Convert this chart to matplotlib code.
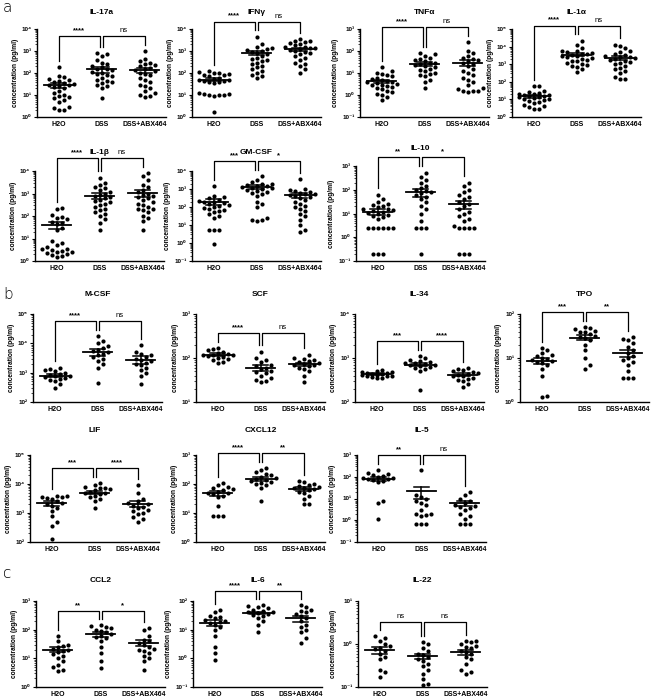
import numpy as np
import matplotlib
matplotlib.use('Agg')
from matplotlib import pyplot as plt
from matplotlib.ticker import FixedLocator, FuncFormatter, NullFormatter

plt.rcParams['font.family'] = ['Liberation Sans', 'DejaVu Sans']
plt.rcParams['font.weight'] = 'bold'

W, H = 654, 699
GROUPS = ['H2O', 'DSS', 'DSS+ABX464']

# ---- values (pg/ml): [H2O, DSS, DSS+ABX464] ----
il17a = [[190, 75, 65, 55, 50, 45, 40, 35, 32, 30, 28, 25, 22, 20, 15, 12, 10, 9, 8, 7, 6, 5, 3, 2.5, 2, 2],
         [800, 700, 600, 400, 300, 250, 200, 180, 160, 150, 130, 110, 100, 90, 80, 70, 60, 50, 45, 40, 35, 30, 25, 20, 7],
         [1000, 450, 350, 300, 250, 220, 200, 170, 150, 130, 120, 100, 90, 80, 60, 50, 40, 30, 25, 20, 15, 12, 10, 9, 8]]
ifng = [[120, 110, 100, 95, 90, 85, 80, 70, 60, 55, 50, 48, 45, 42, 40, 38, 35, 12, 11, 11, 10, 10, 10, 9, 1.7],
        [4500, 2000, 1500, 1300, 1200, 1100, 1000, 900, 850, 700, 600, 500, 450, 400, 350, 300, 250, 200, 180, 150, 120, 100, 80, 70, 60],
        [3500, 3000, 2800, 2500, 2200, 2000, 1800, 1600, 1500, 1400, 1300, 1200, 1100, 1000, 900, 800, 700, 600, 500, 400, 300, 250, 200, 150, 100]]
tnfa = [[18, 12, 10, 9, 8, 7, 6, 5.5, 5, 4.5, 4, 3.8, 3.5, 3.2, 3, 2.8, 2.5, 2.2, 2, 1.8, 1.5, 1.3, 1.1, 1, 0.8, 0.6],
        [80, 70, 60, 50, 45, 40, 35, 30, 28, 25, 22, 20, 18, 16, 14, 12, 10, 9, 8, 7, 5, 4, 2],
        [250, 100, 80, 60, 50, 45, 40, 35, 30, 25, 20, 15, 12, 10, 8, 6, 5, 4, 3, 2, 1.8, 1.6, 1.5, 1.5, 1.4]]
il1a = [[60, 55, 30, 25, 22, 20, 20, 18, 17, 16, 15, 14, 13, 12, 11, 10, 9, 8, 7, 6, 5, 4, 3.5, 3, 3],
        [22000, 12000, 8000, 6000, 5500, 5000, 4500, 4000, 3800, 3500, 3000, 2800, 2500, 2200, 2000, 1800, 1600, 1500, 1200, 1000, 900, 800, 700, 500, 350],
        [13000, 11000, 8000, 6000, 5000, 4000, 3500, 3000, 2700, 2500, 2200, 2000, 1800, 1600, 1400, 1200, 1000, 800, 600, 500, 400, 300, 200, 150, 150]]
il1b = [[230, 200, 110, 90, 80, 70, 55, 50, 45, 30, 25, 8, 6, 5, 4, 3.5, 3.3, 3, 2.8, 2.6, 2.4, 2.2, 2, 1.8, 1.6, 1.5],
        [5000, 3000, 2500, 2000, 1800, 1500, 1200, 1000, 900, 800, 700, 600, 500, 450, 400, 350, 300, 250, 200, 180, 150, 120, 100, 70, 50, 25],
        [8000, 6000, 4000, 2500, 2000, 1500, 1200, 1000, 900, 800, 700, 600, 500, 400, 350, 300, 250, 200, 200, 180, 150, 100, 80, 60, 25]]
gmcsf = [[1400, 400, 350, 300, 250, 220, 200, 180, 160, 150, 130, 120, 100, 90, 80, 70, 60, 50, 40, 30, 25, 5.5, 5, 5, 0.9],
         [5000, 3000, 2500, 2000, 1800, 1600, 1500, 1400, 1300, 1200, 1100, 1000, 900, 800, 700, 600, 500, 400, 200, 150, 100, 25, 20, 18, 17],
         [3500, 1000, 900, 800, 700, 600, 550, 500, 450, 400, 350, 300, 250, 200, 150, 120, 100, 80, 60, 40, 30, 20, 10, 5, 4]]
il10 = [[60, 40, 30, 25, 22, 20, 18, 16, 15, 14, 13, 12, 11, 10, 9, 8, 7, 6, 2.5, 2.5, 2.5, 2.5, 2.5, 2.5, 0.2, 0.2, 0.2],
        [500, 350, 250, 200, 150, 120, 100, 90, 80, 70, 60, 50, 40, 30, 20, 15, 10, 5, 2.5, 2.5, 2.5, 0.2],
        [200, 150, 100, 80, 60, 50, 40, 30, 25, 20, 15, 12, 10, 8, 6, 5, 3, 2.5, 2.5, 2.5, 2.5, 0.2, 0.2, 0.2]]
mcsf = [[1500, 1300, 1200, 1100, 1000, 900, 850, 800, 750, 700, 650, 600, 550, 500, 400, 300],
        [18000, 12000, 10000, 8000, 7000, 6000, 5500, 5000, 4500, 4000, 3500, 3000, 2500, 2000, 1500, 450],
        [9000, 5000, 4500, 4000, 3500, 3000, 2800, 2500, 2200, 2000, 1800, 1500, 1200, 1000, 800, 400]]
scf = [[170, 160, 150, 140, 130, 125, 120, 118, 115, 110, 105, 100, 95, 90, 80, 75],
       [140, 100, 90, 80, 70, 65, 60, 55, 50, 48, 45, 40, 35, 32, 30, 28],
       [120, 100, 95, 90, 85, 80, 75, 72, 70, 68, 65, 60, 55, 50, 40, 28]]
il34 = [[520, 500, 480, 470, 460, 450, 440, 430, 420, 410, 400, 390, 380, 370, 360, 350],
        [1100, 1000, 900, 850, 800, 780, 750, 720, 700, 680, 650, 620, 600, 550, 500, 190],
        [600, 550, 520, 500, 480, 460, 440, 420, 400, 380, 360, 340, 320, 300, 260, 220]]
tpo = [[17, 15, 13, 12, 11, 10, 9.5, 9, 8.5, 8, 7.5, 7, 5.5, 4, 1.4, 1.3],
       [50, 48, 45, 42, 40, 38, 35, 32, 30, 28, 25, 20, 15, 10, 7, 5.5],
       [30, 27, 25, 22, 18, 15, 13, 11, 10, 9, 8, 7, 5, 3.5, 3.5, 3.5]]
lif = [[4000, 3800, 3600, 3500, 3200, 3000, 2500, 2200, 2000, 1800, 1500, 1200, 800, 500, 350, 130],
       [11000, 9000, 8000, 7500, 7000, 6500, 6000, 5500, 5000, 4800, 4500, 4000, 3500, 3000, 2500, 1500],
       [9000, 5000, 3000, 2500, 2200, 2000, 1800, 1600, 1500, 1300, 1200, 1000, 900, 700, 600, 500]]
cxcl12 = [[110, 90, 80, 70, 65, 60, 55, 50, 48, 45, 40, 35, 18, 8, 8, 8],
          [350, 300, 250, 220, 200, 180, 160, 150, 140, 130, 120, 110, 100, 90, 70, 25],
          [130, 120, 100, 90, 85, 80, 75, 70, 65, 60, 55, 50, 40, 30, 20, 20]]
il5 = [[200, 150, 130, 120, 110, 100, 90, 85, 80, 75, 70, 65, 60, 8, 6, 1.2],
       [200, 15, 12, 10, 8, 6, 5, 3, 2, 2, 1.8, 1.5, 0.7, 0.7, 0.7],
       [20, 15, 10, 8, 6, 5, 4.5, 4, 3.5, 3, 2, 1.5, 1.2, 0.7, 0.7, 0.7]]
ccl2 = [[60, 40, 30, 28, 25, 22, 20, 18, 16, 14, 12, 10, 8, 6, 5, 4, 3.5],
        [140, 130, 120, 110, 100, 90, 80, 70, 60, 55, 50, 40, 25, 15, 8, 4.5],
        [110, 100, 60, 45, 40, 35, 30, 25, 22, 20, 18, 15, 12, 10, 8, 4]]
il6 = [[50, 40, 30, 28, 25, 22, 20, 18, 17, 15, 12, 10, 6, 2.5, 1.5, 0.9],
       [70, 65, 60, 55, 50, 45, 42, 40, 38, 35, 32, 30, 25, 20, 15, 8],
       [70, 60, 50, 45, 40, 35, 30, 25, 20, 15, 12, 10, 8, 5, 3.5]]
il22 = [[1.5, 1.4, 1.2, 1.0, 0.9, 0.8, 0.75, 0.7, 0.6, 0.5, 0.45, 0.25, 0.22, 0.17],
        [1.1, 1.0, 0.8, 0.7, 0.6, 0.55, 0.5, 0.45, 0.4, 0.35, 0.3, 0.25, 0.2, 0.15, 0.12, 0.11],
        [1.2, 1.2, 1.1, 1.0, 0.9, 0.85, 0.8, 0.7, 0.65, 0.6, 0.5, 0.45, 0.35, 0.25, 0.22, 0.2]]

# mean and SEM per group
means = {'IL-17a': [28, 150, 130], 'IFNγ': [50, 800, 1200], 'TNFα': [4.2, 26, 30],
         'IL-1α': [15, 3500, 2300], 'IL-1β': [40, 800, 1100], 'GM-CSF': [200, 1300, 450],
         'IL-10': [12, 80, 25], 'M-CSF': [800, 5000, 2800], 'SCF': [120, 60, 72],
         'IL-34': [430, 700, 420], 'TPO': [8.5, 29, 13], 'LIF': [2200, 5000, 2100],
         'CXCL12': [48, 150, 68], 'IL-5': [80, 22, 6], 'CCL2': [20, 70, 35],
         'IL-6': [17, 38, 25], 'IL-22': [0.72, 0.52, 0.65]}
sems = {'IL-17a': [7, 45, 35], 'IFNγ': [8, 150, 200], 'TNFα': [0.7, 6, 10],
        'IL-1α': [3, 700, 600], 'IL-1β': [13, 250, 400], 'GM-CSF': [70, 350, 150],
        'IL-10': [3, 30, 10], 'M-CSF': [100, 1200, 800], 'SCF': [8, 10, 7],
        'IL-34': [15, 50, 30], 'TPO': [1.3, 4, 2.5], 'LIF': [400, 600, 500],
        'CXCL12': [9, 22, 9], 'IL-5': [15, 13, 1.5], 'CCL2': [4, 14, 9],
        'IL-6': [4, 4, 6], 'IL-22': [0.12, 0.08, 0.09]}
signif = {'IL-17a': ['****', 'ns'], 'IFNγ': ['****', 'ns'], 'TNFα': ['****', 'ns'],
          'IL-1α': ['****', 'ns'], 'IL-1β': ['****', 'ns'], 'GM-CSF': ['***', '*'],
          'IL-10': ['**', '*'], 'M-CSF': ['****', 'ns'], 'SCF': ['****', 'ns'],
          'IL-34': ['***', '****'], 'TPO': ['***', '**'], 'LIF': ['***', '****'],
          'CXCL12': ['****', '**'], 'IL-5': ['**', 'ns'], 'CCL2': ['**', '*'],
          'IL-6': ['****', '**'], 'IL-22': ['ns', 'ns']}
decades = {'IL-17a': (0, 4), 'IFNγ': (0, 4), 'TNFα': (-1, 3), 'IL-1α': (0, 5),
           'IL-1β': (0, 4), 'GM-CSF': (-1, 4), 'IL-10': (-1, 3), 'M-CSF': (2, 5),
           'SCF': (1, 3), 'IL-34': (2, 4), 'TPO': (0, 2), 'LIF': (2, 5),
           'CXCL12': (0, 3), 'IL-5': (-1, 3), 'CCL2': (0, 3), 'IL-6': (-1, 2),
           'IL-22': (-1, 1)}
panel_data = {'IL-17a': il17a, 'IFNγ': ifng, 'TNFα': tnfa, 'IL-1α': il1a,
              'IL-1β': il1b, 'GM-CSF': gmcsf, 'IL-10': il10, 'M-CSF': mcsf,
              'SCF': scf, 'IL-34': il34, 'TPO': tpo, 'LIF': lif, 'CXCL12': cxcl12,
              'IL-5': il5, 'CCL2': ccl2, 'IL-6': il6, 'IL-22': il22}

# layout in pixels: left, top, height, title y
layout = {'IL-17a': (37, 29, 88, 12), 'IFNγ': (192, 29, 88, 12),
          'TNFα': (360, 29, 88, 12), 'IL-1α': (512, 29, 88, 12),
          'IL-1β': (35, 171, 90, 153), 'GM-CSF': (192, 171, 90, 153),
          'IL-10': (356, 166, 95, 148),
          'M-CSF': (33, 314, 88, 294), 'SCF': (196, 314, 88, 294),
          'IL-34': (355, 314, 88, 294), 'TPO': (520, 314, 88, 294),
          'LIF': (30, 455, 87, 431), 'CXCL12': (196, 455, 87, 431),
          'IL-5': (357, 455, 87, 431),
          'CCL2': (36, 601, 86, 580), 'IL-6': (193, 601, 86, 580),
          'IL-22': (358, 601, 86, 580)}
AX_W = 129
CAT_PX = AX_W / 3.0

SUP = str.maketrans('-0123456789', '⁻⁰¹²³⁴⁵⁶⁷⁸⁹')


def sup_fmt(v, pos):
    e = int(round(np.log10(v)))
    return '10' + str(e).translate(SUP)


def swarm(logv, px_per_dec, d=5.0, max_off=18.0):
    # simple beeswarm offsets (in category units), capped in width
    order = np.argsort(logv)
    placed = []
    xs = np.zeros(len(logv))
    cands = [0.0]
    k = 1
    while k * d <= max_off:
        cands += [k * d, -k * d]
        k += 1
    for i in order:
        y = logv[i] * px_per_dec
        best, best_gap = 0.0, -1
        for c in cands:
            gap = min([(c - px) ** 2 + (y - py) ** 2 for px, py in placed] or [1e9])
            if gap >= d * d * 0.95:
                best = c
                break
            if gap > best_gap:
                best, best_gap = c, gap
        placed.append((best, y))
        xs[i] = best / CAT_PX
    return xs


fig = plt.figure(figsize=(W / 100, H / 100), dpi=100)

for name, groups in panel_data.items():
    left, top, h, ty = layout[name]
    lo, hi = decades[name]
    ax = fig.add_axes([left / W, 1 - (top + h) / H, AX_W / W, h / H])
    ax.set_yscale('log')
    ax.set_ylim(10.0 ** lo, 10.0 ** hi)
    ax.set_xlim(-0.5, 2.5)
    px_per_dec = h / (hi - lo)

    tops = []
    for i, vals in enumerate(groups):
        lv = np.log10(np.array(vals, dtype=float))
        xo = swarm(lv, px_per_dec)
        ax.scatter(i + xo, vals, s=9, color='black', linewidths=0, zorder=3, clip_on=False)
        m, se = means[name][i], sems[name][i]
        ax.plot([i - 0.34, i + 0.34], [m, m], color='black', lw=1.3, zorder=4)
        ax.plot([i, i], [m - se, m + se], color='black', lw=1.1, zorder=4)
        ax.plot([i - 0.17, i + 0.17], [m + se, m + se], color='black', lw=1.1, zorder=4)
        ax.plot([i - 0.17, i + 0.17], [m - se, m - se], color='black', lw=1.1, zorder=4)
        tops.append(lv.max())

    rng = hi - lo
    legs = [t + 0.07 * rng for t in tops]
    level = max(legs) + 0.1 * rng
    lab_l, lab_r = signif[name]
    ax.plot([0, 0, 0.96, 0.96], 10 ** np.array([legs[0], level, level, legs[1]]),
            color='black', lw=0.9, clip_on=False)
    ax.plot([1.04, 1.04, 2, 2], 10 ** np.array([legs[1], level, level, legs[2]]),
            color='black', lw=0.9, clip_on=False)
    for xc, lab in [(0.48, lab_l), (1.52, lab_r)]:
        ax.annotate(lab, (xc, 10 ** level), xytext=(0, 1.5), textcoords='offset points',
                    ha='center', va='bottom', fontsize=5.5,
                    fontweight='normal' if lab == 'ns' else 'bold', annotation_clip=False)

    ax.yaxis.set_major_locator(FixedLocator([10.0 ** e for e in range(lo, hi + 1)]))
    ax.yaxis.set_major_formatter(FuncFormatter(sup_fmt))
    minors = [k * 10.0 ** e for e in range(lo, hi) for k in range(2, 10)]
    ax.yaxis.set_minor_locator(FixedLocator(minors))
    ax.yaxis.set_minor_formatter(NullFormatter())
    ax.tick_params(axis='y', which='major', length=2.5, width=0.8, labelsize=4.5, pad=1.5)
    ax.tick_params(axis='y', which='minor', length=1.3, width=0.5)
    ax.set_xticks([0, 1, 2])
    ax.set_xticklabels(GROUPS, fontsize=5, fontweight='bold')
    ax.tick_params(axis='x', length=0, pad=3)
    for sp in ['top', 'right']:
        ax.spines[sp].set_visible(False)
    for sp in ['left', 'bottom']:
        ax.spines[sp].set_linewidth(1.0)
    ax.set_ylabel('concentration (pg/ml)', fontsize=4.8, fontweight='bold', labelpad=2)

    fig.text((left + AX_W / 2) / W, 1 - ty / H, name, ha='center', va='center',
             fontsize=6, fontweight='bold')

for lab, (x, y) in {'a': (3, 7), 'b': (3, 294), 'c': (3, 573)}.items():
    fig.text(x / W, 1 - y / H, lab, ha='left', va='center', fontsize=11,
             fontweight='light', family='DejaVu Sans')

fig.savefig('out.png', dpi=100)
